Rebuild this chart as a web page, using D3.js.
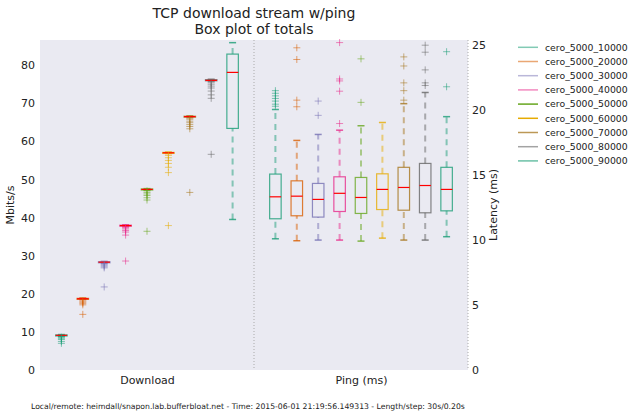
<!DOCTYPE html>
<html>
<head>
<meta charset="utf-8">
<script src="https://cdn.jsdelivr.net/npm/d3@7"></script>
<style>
body { margin: 0; background: #fff; }
text { font-family: "DejaVu Sans", sans-serif; fill: #222; }
</style>
</head>
<body>
<svg class="chart" width="640" height="419"></svg>
<script>
// series and values
var series = ["cero_5000_10000", "cero_5000_20000", "cero_5000_30000", "cero_5000_40000",
  "cero_5000_50000", "cero_5000_60000", "cero_5000_70000", "cero_5000_80000", "cero_5000_90000"]
var groups = ["Download", "Ping (ms)"]

// Download (Mbits/s)
var dlLo  = [8.8, 18.5, 28.0, 37.6, 47.2, 56.8, 66.2, 75.8, 39.5]
var dlQ1  = [9.0, 18.6, 28.2, 37.8, 47.3, 56.9, 66.4, 75.9, 63.4]
var dlMed = [9.1, 18.7, 28.3, 37.9, 47.4, 57.0, 66.5, 76.0, 78.1]
var dlQ3  = [9.2, 18.8, 28.4, 38.0, 47.5, 57.1, 66.6, 76.2, 82.9]
var dlHi  = [9.3, 18.9, 28.5, 38.1, 47.6, 57.2, 66.7, 76.3, 85.9]
var dlFliers = [
  [8.6, 8.3, 8.0, 7.5, 7.0],
  [18.1, 17.8, 17.5, 17.1, 14.6],
  [27.7, 27.4, 27.1, 26.8, 21.8],
  [37.3, 37.0, 36.6, 36.2, 35.4, 28.6],
  [47.0, 46.6, 46.2, 45.8, 45.2, 44.6, 36.4],
  [56.3, 55.7, 55.0, 54.2, 53.2, 51.8, 37.9],
  [65.8, 65.3, 64.9, 64.4, 63.9, 63.3, 46.6],
  [75.4, 75.0, 74.5, 74.0, 73.2, 72.2, 71.3, 56.6],
  []
]

// Ping latency (ms)
var pingLo  = [10.1, 9.95, 10.0, 10.0, 9.92, 10.15, 10.0, 10.0, 10.26]
var pingQ1  = [11.64, 11.87, 11.77, 12.2, 12.05, 12.35, 12.3, 12.1, 12.25]
var pingMed = [13.33, 13.38, 13.13, 13.6, 13.28, 13.9, 14.05, 14.2, 13.9]
var pingQ3  = [15.08, 14.56, 14.36, 14.87, 14.82, 15.1, 15.6, 15.9, 15.6]
var pingHi  = [20.05, 17.67, 18.13, 18.46, 18.8, 19.05, 20.5, 21.36, 19.5]
var pingFliers = [
  [20.3, 20.46, 20.7, 20.9, 21.1, 21.3, 21.5],
  [20.26, 20.77, 23.9, 24.8],
  [19.6, 20.7],
  [18.97, 21.46, 22.25, 22.4, 25.2],
  [20.6, 23.95],
  [],
  [20.77, 21.5, 22.1, 23.4, 24.1],
  [21.9, 22.1, 23.1, 24.46, 25.0],
  [21.8, 24.5]
]

var leftTicks = [0, 10, 20, 30, 40, 50, 60, 70, 80]
var rightTicks = [0, 5, 10, 15, 20, 25]
var footer = "Local/remote: heimdall/snapon.lab.bufferbloat.net - Time: 2015-06-01 21:19:56.149313 - Length/step: 30s/0.20s"

var colors = series.map(function(d, i) { return d3.schemeDark2[i % 8] })
var legendAlpha = [0.55, 0.55, 0.5, 0.55, 1, 1, 0.75, 0.6, 0.65]

var pl = 40, pr = 468, pt = 40, pb = 370
var svg = d3.select(".chart")

var x = d3.scaleLinear().domain([0, 2 * (series.length + 1)]).range([pl, pr])
var yL = d3.scaleLinear().domain([0, 86.6]).range([pb, pt])
var yR = d3.scaleLinear().domain([0, 25.4]).range([pb, pt])

svg.append("rect")
  .attr("x", pl).attr("y", pt)
  .attr("width", pr - pl).attr("height", pb - pt)
  .attr("fill", "#eaeaf2")

// group separators
svg.selectAll(".sep")
  .data([series.length + 1, 2 * (series.length + 1)])
  .enter().append("line")
  .attr("x1", function(d) { return x(d) }).attr("x2", function(d) { return x(d) })
  .attr("y1", pt).attr("y2", pb)
  .attr("stroke", "#aaa").attr("stroke-width", 1).attr("stroke-dasharray", "1,2")

function drawBoxes(offset, y, lo, q1, med, q3, hi, fliers) {
  var bw = 11.5, cw = 7
  series.forEach(function(s, i) {
    var cx = x(offset + i + 1)
    var c = colors[i]
    var g = svg.append("g")
    // whiskers
    g.selectAll(".whisk")
      .data([[q3[i], hi[i]], [lo[i], q1[i]]])
      .enter().append("line")
      .attr("x1", cx).attr("x2", cx)
      .attr("y1", function(d) { return y(d[0]) })
      .attr("y2", function(d) { return y(d[1]) })
      .attr("stroke", c).attr("stroke-opacity", 0.5)
      .attr("stroke-width", 2).attr("stroke-dasharray", "6,5")
    // caps
    g.selectAll(".cap")
      .data([lo[i], hi[i]])
      .enter().append("line")
      .attr("x1", cx - cw / 2).attr("x2", cx + cw / 2)
      .attr("y1", function(d) { return y(d) }).attr("y2", function(d) { return y(d) })
      .attr("stroke", c).attr("stroke-opacity", 0.8).attr("stroke-width", 1.5)
    // box
    g.append("rect")
      .attr("x", cx - bw / 2).attr("y", y(q3[i]))
      .attr("width", bw).attr("height", Math.max(1, y(q1[i]) - y(q3[i])))
      .attr("fill", "none").attr("stroke", c).attr("stroke-opacity", 0.8)
      .attr("stroke-width", 1.2)
    // median
    g.append("line")
      .attr("x1", cx - bw / 2).attr("x2", cx + bw / 2)
      .attr("y1", y(med[i])).attr("y2", y(med[i]))
      .attr("stroke", "#ff0000").attr("stroke-width", 1.2)
    // fliers
    g.selectAll(".flier")
      .data(fliers[i])
      .enter().append("path")
      .attr("d", "M-3.5,0H3.5M0,-3.5V3.5")
      .attr("transform", function(d) { return "translate(" + cx + "," + y(d) + ")" })
      .attr("stroke", c).attr("stroke-opacity", 0.55).attr("stroke-width", 1)
  })
}

drawBoxes(0, yL, dlLo, dlQ1, dlMed, dlQ3, dlHi, dlFliers)
drawBoxes(series.length + 1, yR, pingLo, pingQ1, pingMed, pingQ3, pingHi, pingFliers)

// axes
var axL = svg.append("g").attr("transform", "translate(" + pl + ",0)")
  .call(d3.axisLeft(yL).tickValues(leftTicks).tickSize(0).tickPadding(5))
var axR = svg.append("g").attr("transform", "translate(" + pr + ",0)")
  .call(d3.axisRight(yR).tickValues(rightTicks).tickSize(0).tickPadding(4))
var axB = svg.append("g").attr("transform", "translate(0," + pb + ")")
  .call(d3.axisBottom(x).tickValues([(series.length + 1) / 2, 1.5 * (series.length + 1)])
    .tickFormat(function(d, i) { return groups[i] }).tickSize(0).tickPadding(6))
;[axL, axR, axB].forEach(function(a) {
  a.select(".domain").remove()
  a.selectAll("text").style("font-size", "11px").attr("fill", "#222")
    .style("font-family", "DejaVu Sans")
})

svg.append("text").attr("transform", "translate(14," + (pt + pb) / 2 + ") rotate(-90)")
  .attr("text-anchor", "middle").style("font-size", "11px").text("Mbits/s")
svg.append("text").attr("transform", "translate(497," + (pt + pb) / 2 + ") rotate(-90)")
  .attr("text-anchor", "middle").style("font-size", "11px").text("Latency (ms)")

svg.append("text").attr("x", (pl + pr) / 2).attr("y", 18)
  .attr("text-anchor", "middle").style("font-size", "14px").text("TCP download stream w/ping")
svg.append("text").attr("x", (pl + pr) / 2).attr("y", 33.5)
  .attr("text-anchor", "middle").style("font-size", "14px").text("Box plot of totals")

svg.append("text").attr("x", 31).attr("y", 409)
  .style("font-size", "7.7px").text(footer)

// legend
var leg = svg.selectAll(".leg").data(series).enter().append("g")
  .attr("transform", function(d, i) { return "translate(518," + (47.3 + i * 14.2) + ")" })
leg.append("line").attr("x1", 0).attr("x2", 20)
  .attr("stroke", function(d, i) { return colors[i] })
  .attr("stroke-opacity", function(d, i) { return legendAlpha[i] })
  .attr("stroke-width", 1.5)
leg.append("text").attr("x", 27).attr("y", 3.3)
  .style("font-size", "9.3px").text(function(d) { return d })
</script>
</body>
</html>
